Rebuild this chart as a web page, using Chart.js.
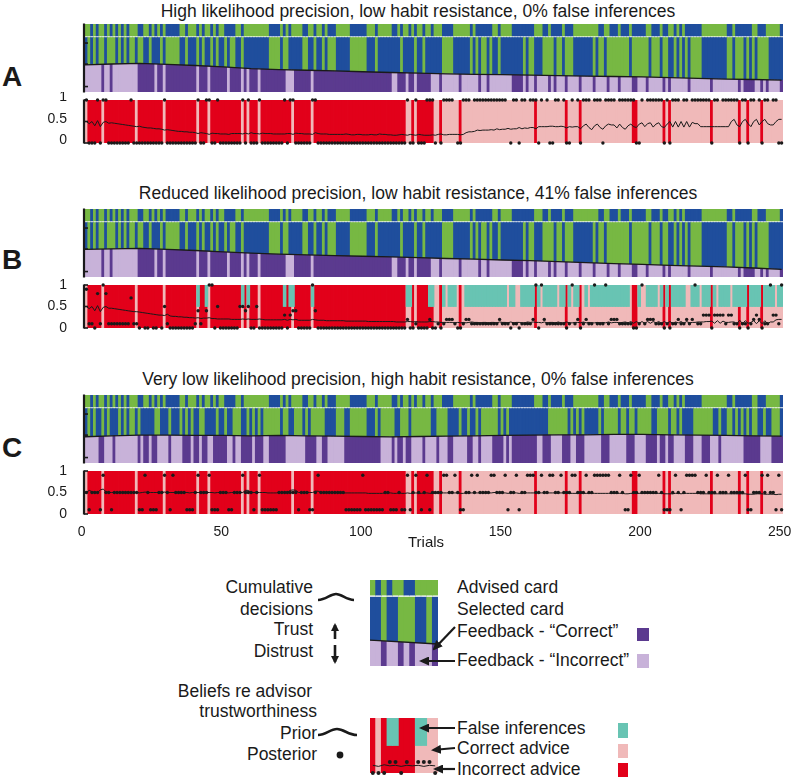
<!DOCTYPE html>
<html>
<head>
<meta charset="utf-8">
<title>Advice taking simulations</title>
<script src="https://cdn.jsdelivr.net/npm/chart.js@4.4.1/dist/chart.umd.min.js"></script>
<style>
  body { margin: 0; background: #fff; }
  #fig { position: relative; width: 791px; height: 779px; overflow: hidden;
         font-family: "Liberation Sans", Arial, Helvetica, sans-serif; color: #1a1a1a; }
  #fig canvas { position: absolute; left: 0; }
  .lbl { position: absolute; white-space: nowrap; line-height: 1; font-size: 17.5px; }
  .title { left: 0; width: 836px; text-align: center; }
  .letter { left: 2px; font-size: 28px; font-weight: bold; }
  .rt { text-align: right; }
  .sq { position: absolute; }
  #notes { position: absolute; left: 0; top: 0; }
</style>
</head>
<body>
<div id="fig">
  <div class="lbl title" style="top:3px">High likelihood precision, low habit resistance, 0% false inferences</div>
  <div class="lbl title" style="top:185px">Reduced likelihood precision, low habit resistance, 41% false inferences</div>
  <div class="lbl title" style="top:371px">Very low likelihood precision, high habit resistance, 0% false inferences</div>
  <div class="lbl letter" style="top:63px">A</div>
  <div class="lbl letter" style="top:246px">B</div>
  <div class="lbl letter" style="top:434px">C</div>

  <canvas id="topA" width="791" height="80" style="top:20px"></canvas>
  <canvas id="belA" width="791" height="56" style="top:92px"></canvas>
  <canvas id="topB" width="791" height="80" style="top:205px"></canvas>
  <canvas id="belB" width="791" height="56" style="top:277px"></canvas>
  <canvas id="topC" width="791" height="80" style="top:391px"></canvas>
  <canvas id="belC" width="791" height="87" style="top:463px"></canvas>
  <div class="lbl" style="left:408px;top:534px;font-size:15px">Trials</div>
  <canvas id="legCards" width="90" height="100" style="left:360px;top:572px"></canvas>
  <canvas id="legBelief" width="90" height="70" style="left:360px;top:710px"></canvas>

  <!-- legend texts -->
  <div class="lbl rt" style="right:478px;top:579px">Cumulative</div>
  <div class="lbl rt" style="right:478px;top:601px">decisions</div>
  <div class="lbl rt" style="right:478px;top:621px">Trust</div>
  <div class="lbl rt" style="right:478px;top:643px">Distrust</div>
  <div class="lbl rt" style="right:479px;top:683px">Beliefs re advisor</div>
  <div class="lbl rt" style="right:474px;top:703px">trustworthiness</div>
  <div class="lbl rt" style="right:474px;top:725px">Prior</div>
  <div class="lbl rt" style="right:474px;top:746px">Posterior</div>

  <div class="lbl" style="left:457px;top:579px">Advised card</div>
  <div class="lbl" style="left:457px;top:601px">Selected card</div>
  <div class="lbl" style="left:457px;top:623px">Feedback - “Correct”</div>
  <div class="lbl" style="left:457px;top:652px">Feedback - “Incorrect”</div>
  <div class="lbl" style="left:457px;top:720px">False inferences</div>
  <div class="lbl" style="left:457px;top:740px">Correct advice</div>
  <div class="lbl" style="left:457px;top:761px">Incorrect advice</div>

  <div class="sq" style="left:637px;top:628px;width:12px;height:13px;background:#5b3a8f"></div>
  <div class="sq" style="left:637px;top:654px;width:12px;height:14px;background:#c8b2d9"></div>
  <div class="sq" style="left:618px;top:723px;width:10px;height:15px;background:#68c4b3"></div>
  <div class="sq" style="left:618px;top:744px;width:10px;height:14px;background:#f0b9b9"></div>
  <div class="sq" style="left:618px;top:763px;width:10px;height:14px;background:#e2001a"></div>

  <svg id="notes" width="791" height="779">
    <defs>
      <marker id="ah" markerWidth="10" markerHeight="9" refX="8" refY="4.5" orient="auto" markerUnits="userSpaceOnUse">
        <path d="M0,0 L10,4.5 L0,9 z" fill="#1a1a1a"/>
      </marker>
      <marker id="ahs" markerWidth="8" markerHeight="9" refX="6" refY="4.5" orient="auto" markerUnits="userSpaceOnUse">
        <path d="M0,0.5 L8,4.5 L0,8.5 z" fill="#1a1a1a"/>
      </marker>
    </defs>
    <g stroke="#1a1a1a" fill="none">
      <path d="M318,600 C326,600 330,594 336,594 C342,594 346,600 354,600" stroke-width="2.6"/>
      <path d="M335,639 L335,625" stroke-width="2.6" marker-end="url(#ahs)"/>
      <path d="M335,645 L335,662" stroke-width="2.6" marker-end="url(#ahs)"/>
      <path d="M318,735 C326,735 330,729 337,729 C344,729 348,735 357,735" stroke-width="2.6"/>
      <path d="M455,627 L434,649" stroke-width="2.2" marker-end="url(#ah)"/>
      <path d="M455,661 L421,661" stroke-width="2.2" marker-end="url(#ah)"/>
      <path d="M455,728 L421,728" stroke-width="2.2" marker-end="url(#ah)"/>
      <path d="M455,748 L433,750" stroke-width="2.2" marker-end="url(#ah)"/>
      <path d="M455,769 L435,769" stroke-width="2.2" marker-end="url(#ah)"/>
    </g>
    <circle cx="340" cy="755" r="3.4" fill="#1a1a1a"/>
  </svg>
</div>

<script>
// ---- DATA (one character per trial, 25 blocks of 10 trials) ----
// advised card: G green, B blue (same task in all three simulations)
const advised = [
  "GGBGBGGBGB","GBGBGBGGGB","BGGBGBGBGB","BBBBGGBGGG","BGBGGBGBGG",
  "BBBBGGBGGG","GGGGGGBBBB","GBGBGGGGBB","GGBGGBGBBB","GGGGGBBBBB",
  "BGGGBGGGGG","BBGBGGBGBG","GBGGBGGGBB","BBGGGGGGBG","BBBBBBGGBG",
  "GGGBBBBBBB","BGGGBBGBBB","BGBBBGGGGG","GGGGBBGGBB","BGBBBGBBBB",
  "BGGBBBGBBG","GBGBGBBBBB","BGGGGGGGGG","BBGBBBBBBG","GBBBGGGGGB"
].join("");

// advice: o correct, x incorrect
const adviceOk = [
  "oxxxxxoxxx","xxxxxxxxox","xxxxxxxxox","xxxxxxxxxx","oxxxoxxxxx",
  "xxxxxxoxox","xxoxxxxxxx","xxxxoxxxxx","xoxxxxxxxx","xxxxxxxxxx",
  "xxxxxxxxxx","xxxxxooxox","xxxxxooxoo","ooooxooooo","oooooooooo",
  "oooooooooo","oxoooooooo","ooxooooxoo","oooooooooo","ooooooxxoo",
  "oooooooxox","oooooooooo","ooooxooooo","ooooxooxoo","ooxooooooo"
].join("");

// selected card (A and B), feedback D "Correct" / L "Incorrect"
const selectedAB = [
  "BGBGBGGBGG","GBGBGBGGBG","GBBGBBBGBG","GGGGBBGBBB","GBGBBGBGBB",
  "GBGGBBGBBB","BBBBBBGGGG","BGGBBBBBGG","BBGBBGBGGG","BBBBBGGGGG",
  "GBBBGBBBBB","BBBGBBBBGB","BGBBBBBBGG","GGBBBBBBGB","GBGGBGBBGB",
  "BBBBBBBGBG","GBBBGGGGBG","GBGGGBBBBB","BBGBGGBGGG","GGGGGBGGGG",
  "GGBGGGBGGB","BGBGBGBGGG","GBBBBBBBBB","GGBGGGBGBG","BGGGGBBBBB"
].join("");
const feedbackAB = [
  "LLLLLLDLLD","LLLLLLLLLD","DDDDDLDDLD","DDDDDDDDDD","LDDDLDDDDD",
  "DLDDDDLDLD","DDLDDDDDDD","DDLLLDDDDD","DLDDDDDDDD","DDDDDDDDDD",
  "DDDDDDDDDD","LLDDDLDDLD","DDDDLLLDLL","LLLLDLLLLL","LDLLDLLLLL",
  "LLLDDDDLDL","LDLLLLDLDL","LLDLLLLDLL","LLDLLLLDLL","LDLLLLDDLL",
  "LDLLLLLDLD","LLLLLLDLLL","LLLLDLLLLL","LLLLDLDDDD","LLDLDLLLLD"
].join("");
const selectedC = [
  "BGBGBBGBGB","BBGBGBGGBG","BBBBBGGBBB","GBBBGBGBGB","BGGBBBBGBB",
  "GBBGGGBBGB","GBGBGGGGGG","BGGBBGGGBG","BGGGGGBBBB","GGGBBGGGGG",
  "GBBBGBGGGG","GBBGGGBGGG","GGGGBBGGGG","BBBBGBBGBB","GBGGGGGGBG",
  "BGBBBBBBBB","BBBBBBGGGG","GGGBGBGBGB","BBBBGBGGGG","GBGGBGGBGG",
  "GGGBBGGGGB","GGBGBBBBGG","GGGGGBBGBB","GGBGBGBGBG","GBBGBBGGGB"
].join("");
const feedbackC = [
  "LLLLLDDLLL","DLLLLLLLLD","LDDLDDLLLL","DLLLLDDDLD","DLDDLLDDDD",
  "DLLDLLDDDD","LDDDLLDDDD","DDLLLLLLLD","DDDLLDDLLL","LLLDDDDDDD",
  "DDDDDDLLLL","DLDDLDDLLL","LDLLLLDLLL","DDLLLLLDDL","LDLLLLDDDD",
  "LDLDDDDDDD","DDLLDDDLLL","LDDDLLDDDL","LLLLLDDDLL","LLLLDDDLLL",
  "LDDDDLDDLD","DLLLLDDDLL","LDDDLLLDLL","LLLLLLDDDD","DDLLLLDDDD"
].join("");

// false inferences in simulation B (1 = false inference)
const falseInfB = [
  "0000000000","0000000000","0000000000","0000000000","1001000000",
  "0000001010","0000000000","0101100000","0100000000","0000000000",
  "0000000000","0000011000","0001100010","1110001111","1111111111",
  "1011001111","1010111110","1101011001","0111111111","1111100010",
  "0111101010","1111100111","0111010111","1011111011","1101111011"
].join("");

// cumulative trust/distrust line, read every 10 trials (fraction of strip height)
const trustTrials = [0,10,20,30,40,50,60,70,80,90,100,110,120,130,140,150,160,170,180,190,200,210,220,230,240,250];
const trustA = [0.397,0.412,0.42,0.405,0.39,0.37,0.345,0.33,0.32,0.31,0.298,0.287,0.278,0.268,0.26,0.255,0.248,0.24,0.232,0.228,0.222,0.212,0.2,0.19,0.184,0.176];
const trustB = [0.405,0.415,0.42,0.405,0.39,0.37,0.35,0.335,0.325,0.315,0.305,0.295,0.285,0.272,0.262,0.25,0.24,0.225,0.21,0.198,0.185,0.172,0.16,0.15,0.132,0.113];
const trustC = [0.385,0.4,0.41,0.41,0.405,0.405,0.4,0.405,0.4,0.395,0.39,0.385,0.39,0.395,0.4,0.405,0.41,0.415,0.415,0.42,0.42,0.415,0.41,0.405,0.4,0.395];

// prior belief in advisor trustworthiness, per trial
const priorA = [
  .5,.45,.5,.4,.52,.38,.48,.5,.46,.47, .46,.45,.44,.43,.42,.41,.4,.39,.38,.39,
  .37,.36,.35,.35,.34,.33,.33,.32,.3,.31, .3,.29,.28,.27,.27,.26,.26,.25,.25,.24,
  .22,.24,.23,.22,.2,.23,.22,.22,.21,.21, .21,.2,.22,.22,.22,.22,.21,.23,.21,.24,
  .22,.22,.21,.23,.22,.22,.22,.21,.21,.21, .21,.21,.22,.22,.2,.23,.22,.22,.21,.21,
  .21,.2,.24,.22,.21,.21,.21,.2,.2,.2, .2,.2,.2,.21,.2,.19,.19,.2,.2,.19,
  .19,.19,.2,.19,.19,.21,.2,.2,.19,.19, .18,.18,.19,.2,.19,.18,.2,.19,.18,.2,
  .19,.18,.18,.18,.19,.18,.2,.21,.19,.19, .2,.2,.2,.2,.19,.2,.24,.26,.26,.27,
  .3,.29,.3,.3,.3,.31,.3,.33,.31,.32, .32,.34,.32,.33,.33,.36,.33,.35,.34,.36,
  .36,.33,.38,.38,.38,.38,.39,.39,.38,.38, .39,.38,.35,.38,.37,.38,.38,.33,.4,.44,
  .36,.31,.4,.44,.36,.32,.4,.44,.42,.42, .35,.44,.36,.32,.4,.44,.38,.36,.44,.47,
  .38,.45,.47,.37,.44,.47,.38,.36,.44,.5, .37,.5,.37,.5,.37,.5,.37,.48,.45,.45,
  .38,.38,.38,.38,.38,.38,.38,.38,.38,.38, .38,.5,.55,.42,.38,.5,.55,.45,.38,.5,
  .55,.42,.5,.55,.45,.42,.42,.5,.55,.55
];
const priorB = [
  .5,.45,.5,.4,.52,.38,.48,.5,.46,.46, .45,.44,.43,.42,.41,.4,.39,.38,.38,.37,
  .36,.35,.34,.33,.32,.31,.3,.3,.29,.32, .28,.27,.27,.26,.26,.25,.25,.24,.24,.23,
  .24,.22,.23,.23,.24,.22,.22,.21,.21,.21, .21,.21,.2,.2,.2,.2,.21,.2,.21,.2,
  .2,.2,.21,.2,.19,.19,.19,.19,.19,.19, .19,.2,.18,.2,.19,.2,.18,.18,.18,.18,
  .18,.2,.19,.18,.18,.18,.17,.17,.17,.17, .17,.17,.17,.16,.16,.16,.16,.16,.16,.16,
  .16,.15,.15,.15,.15,.15,.15,.15,.15,.15, .15,.14,.14,.14,.14,.15,.15,.14,.15,.14,
  .14,.14,.14,.15,.15,.14,.14,.13,.13,.13, .13,.13,.12,.13,.12,.13,.12,.13,.14,.13,
  .13,.12,.13,.13,.12,.13,.13,.12,.14,.13, .13,.12,.14,.12,.13,.13,.12,.12,.14,.13,
  .14,.13,.13,.12,.14,.12,.13,.13,.12,.14, .12,.12,.14,.12,.12,.13,.13,.12,.14,.12,
  .13,.12,.12,.13,.12,.13,.12,.14,.12,.13, .13,.12,.13,.14,.12,.15,.11,.15,.11,.15,
  .11,.15,.11,.15,.12,.15,.11,.15,.11,.15, .11,.14,.12,.15,.11,.15,.12,.13,.13,.14,
  .14,.14,.15,.15,.16,.11,.17,.11,.16,.13, .13,.14,.14,.1,.18,.1,.17,.11,.13,.17,
  .1,.17,.1,.17,.1,.14,.14,.19,.2,.2
];
const priorC = [
  .5,.55,.52,.5,.5,.56,.58,.52,.5,.5, .5,.5,.5,.5,.5,.5,.5,.5,.5,.49,
  .5,.51,.5,.5,.5,.5,.5,.5,.51,.5, .5,.5,.5,.5,.5,.5,.5,.49,.5,.5,
  .5,.5,.5,.5,.5,.5,.49,.5,.5,.5, .5,.49,.5,.5,.5,.5,.5,.55,.55,.5,
  .5,.5,.5,.5,.5,.49,.49,.49,.49,.5, .5,.5,.5,.55,.56,.55,.5,.5,.5,.5,
  .5,.5,.53,.53,.5,.5,.5,.5,.5,.5, .5,.5,.49,.49,.49,.49,.49,.49,.49,.49,
  .49,.48,.48,.48,.48,.48,.48,.49,.49,.49, .48,.48,.49,.48,.48,.49,.48,.48,.49,.48,
  .48,.49,.49,.48,.48,.48,.49,.49,.49,.49, .49,.49,.49,.49,.48,.48,.49,.49,.49,.49,
  .49,.49,.49,.49,.49,.49,.5,.5,.49,.49, .49,.48,.49,.49,.49,.48,.48,.49,.49,.49,
  .49,.49,.49,.49,.49,.49,.49,.49,.49,.49, .49,.49,.49,.48,.48,.48,.48,.48,.48,.48,
  .48,.48,.48,.48,.48,.48,.48,.48,.48,.48, .48,.48,.48,.47,.47,.48,.48,.48,.48,.48,
  .48,.48,.48,.48,.48,.48,.48,.47,.47,.47, .47,.48,.48,.47,.48,.48,.48,.48,.48,.48,
  .47,.47,.47,.47,.47,.47,.47,.47,.47,.47, .47,.47,.47,.47,.47,.47,.47,.46,.46,.46,
  .47,.47,.47,.46,.46,.46,.46,.45,.46,.46
];

// posterior: digit = tenths, T = 1, "." = no dot
const postA = [
  "T000T0TT00","000000T000","00000000T0","0000000000","T00TT00T00",
  "000000T0T0","00T0000000","0T0TT00000","0TT0000000","0000000000",
  "0000000000","00000T00T0","00TTT0.0TT","TT.00TTT.T","TTTTTTTTTT",
  "T.0TT0TT.T","TT0T.T00TT",".T00T.T0TT","T.TTT0TTTT",".TTTTTT00T",
  ".TTTTTT0T0","TTT.TT.TTT","TTTT0TT.TT","TTTT0TT0TT",".T0TT.TT00"
].join("");
const postB = [
  "911081T811","1111117110",".00.00.051","0000000001","41.4TT0500",
  "0000055450","0500000000","0303440000","0T40000000","0000000000",
  "0000000000","0000020010","0002001012","2210012211","1111111121",
  "1101101111","2T0T211111","1101T12012","11T111T122","211111001T",
  "1222111010","11211212T1","1333033331","3311011012","32011T331T"
].join("");
const postC = [
  "5155519551","5555555551","1951115595","1955551115","9555911155",
  "5115559555","1591111115","5555551555","1159555555","5551111119",
  "1111111551","1151191595","1591555599","5595115595","9555599555",
  "9155915599","9559559955","9555995559","5599999955","5951195595",
  "5555595111","5951599995","5595559555","9555559115","5595955191"
].join("");

// legend example (a few trials)
const legAdvised  = "GBGBGGBBGGGG";
const legSelected = "BBGBBGGGBBGB";
const legFeedback = "LLDLLDLDLLLD";
const legTrustX = [0.5, 12.5];
const legTrustY = [0.30, 0.256];
const legAdvice = "xoxxxxxxoooo";
const legFalse  = "000110001100";
const legPrior  = [.14,.12,.15,.13,.14,.12,.14,.13,.14,.12,.14,.13];
const legPost   = "0002202.2220";

const beliefTicks = [0, 0.5, 1];
const cardTicks = [0.08, 0.41, 0.72];
const xTicks = [0, 50, 100, 150, 200, 250];

// ---- STYLE ----
const FONT = '"Liberation Sans", Arial, Helvetica, sans-serif';
const INK = "#1a1a1a";
const CARD = { G: "#77b843", B: "#1f4e9d" };
const FEED = { D: "#5b3a8f", L: "#c8b2d9" };
const ADVICE = { o: "#f0b9b9", x: "#e2001a" };
const TEAL = "#68c4b3";
Chart.defaults.font.family = FONT;

// ---- PLUGINS ----
// feedback colours are only shown below the cumulative decision line
const trustClip = {
  id: "trustClip",
  beforeDatasetDraw(chart, args) {
    if (!chart.data.datasets[args.index].belowTrust) return;
    const pts = chart.getDatasetMeta(0).data;
    const { ctx, chartArea: a } = chart;
    ctx.save();
    ctx.beginPath();
    ctx.moveTo(a.left - 3, a.bottom + 3);
    ctx.lineTo(a.left - 3, pts[0].y);
    pts.forEach((p) => ctx.lineTo(p.x, p.y));
    ctx.lineTo(a.right + 3, pts[pts.length - 1].y);
    ctx.lineTo(a.right + 3, a.bottom + 3);
    ctx.closePath();
    ctx.clip();
  },
  afterDatasetDraw(chart, args) {
    if (chart.data.datasets[args.index].belowTrust) chart.ctx.restore();
  },
};

// thick left axis line with short inward ticks
const leftAxis = {
  id: "leftAxis",
  afterDraw(chart, _args, opts) {
    if (!opts.ticks) return;
    const { ctx, chartArea: a, scales } = chart;
    const x = a.left - 1;
    ctx.save();
    ctx.strokeStyle = INK;
    ctx.lineWidth = 2.2;
    ctx.beginPath();
    ctx.moveTo(x, a.top - 0.5);
    ctx.lineTo(x, a.bottom + 0.5);
    ctx.stroke();
    ctx.lineWidth = 1.6;
    opts.ticks.forEach((v) => {
      const y = scales.y.getPixelForValue(v);
      ctx.beginPath();
      ctx.moveTo(x, y);
      ctx.lineTo(x + 4, y);
      ctx.stroke();
    });
    ctx.restore();
  },
};

// ---- CHART BUILDERS ----
function barSet(codes, band, palette, order, extra) {
  const items = [...codes].map((c, i) => ({ c, x: i + 1 })).filter((d) => palette[d.c]);
  return Object.assign({
    type: "bar",
    data: items.map((d) => ({ x: d.x, y: band })),
    backgroundColor: items.map((d) => palette[d.c]),
    grouped: false, barPercentage: 1, categoryPercentage: 1,
    inflateAmount: 0.4, borderWidth: 0, order,
  }, extra || {});
}

function cardStrip(id, o) {
  const n = o.advised.length;
  return new Chart(document.getElementById(id), {
    type: "bar",
    data: {
      datasets: [
        { type: "line", data: o.trustX.map((x, i) => ({ x, y: o.trustY[i] })),
          borderColor: INK, borderWidth: 1.3, pointRadius: 0, order: 0 },
        barSet(o.feedback, [0, 0.8], FEED, 1, { belowTrust: true }),
        barSet(o.selected, [0, 0.8], CARD, 2),
        barSet(o.advised, [0.825, 1], CARD, 3),
      ],
    },
    options: {
      animation: false, responsive: false, events: [],
      layout: { padding: o.pad },
      scales: {
        x: { type: "linear", min: 0.5, max: n + 0.5, offset: false, display: false, grid: { offset: false } },
        y: { min: 0, max: 1, display: false },
      },
      plugins: { legend: { display: false }, tooltip: { enabled: false }, leftAxis: { ticks: o.ticks } },
    },
    plugins: [trustClip, leftAxis],
  });
}

function decodePost(s) {
  return [...s].map((c, i) => (c === "." ? null : { x: i + 1, y: c === "T" ? 1 : Number(c) / 10 }))
    .filter(Boolean);
}

function beliefStrip(id, o) {
  const n = o.advice.length;
  const sets = [
    { type: "line", data: decodePost(o.post), showLine: false, pointRadius: o.dot || 1.7,
      pointBackgroundColor: INK, pointBorderWidth: 0, clip: false, order: 0 },
    { type: "line", data: o.prior.map((y, i) => ({ x: i + 1, y })), borderColor: INK,
      borderWidth: 1, pointRadius: 0, order: 1 },
    barSet(o.advice, [0, 1], ADVICE, 3),
  ];
  if (o.falseInf) sets.push(barSet(o.falseInf, [0.5, 1], { 1: TEAL }, 2));
  const tickFont = { size: 14, family: FONT };
  return new Chart(document.getElementById(id), {
    type: "bar",
    data: { datasets: sets },
    options: {
      animation: false, responsive: false, events: [],
      layout: { padding: o.pad },
      scales: {
        x: {
          type: "linear", min: 0.5, max: n + 0.5, offset: false, display: !!o.showX,
          grid: { display: false, offset: false }, border: { display: false },
          afterBuildTicks: (s) => { s.ticks = xTicks.map((v) => ({ value: v })); },
          ticks: { font: tickFont, color: INK, padding: 2, labelOffset: -2, maxRotation: 0, autoSkip: false },
          afterFit: (s) => {
            if (!o.showX) return;
            s.height = 36;
            s.paddingLeft = 0;
            s.paddingRight = 0;
          },
        },
        y: {
          min: 0, max: 1, display: !!o.showY,
          grid: { display: false }, border: { display: false },
          afterBuildTicks: (s) => { s.ticks = beliefTicks.map((v) => ({ value: v })); },
          ticks: { font: tickFont, color: INK, padding: 10, labelOffset: o.labelShift || 0, autoSkip: false,
                   callback: (v) => String(v) },
          afterFit: (s) => {
            if (!o.showY) return;
            s.width = 85;
            s.paddingTop = 0;
            s.paddingBottom = 0;
          },
        },
      },
      plugins: { legend: { display: false }, tooltip: { enabled: false },
                 leftAxis: { ticks: o.showY ? beliefTicks : null } },
    },
    plugins: [leftAxis],
  });
}

// ---- DRAW ----
const topPad = { left: 85, right: 8, top: 4, bottom: 8 };
cardStrip("topA", { advised, selected: selectedAB, feedback: feedbackAB, trustX: trustTrials, trustY: trustA, ticks: cardTicks, pad: topPad });
cardStrip("topB", { advised, selected: selectedAB, feedback: feedbackAB, trustX: trustTrials, trustY: trustB, ticks: cardTicks, pad: topPad });
cardStrip("topC", { advised, selected: selectedC, feedback: feedbackC, trustX: trustTrials, trustY: trustC, ticks: cardTicks, pad: topPad });

const belPad = { left: 0, right: 8, top: 8, bottom: 5 };
beliefStrip("belA", { advice: adviceOk, prior: priorA, post: postA, showY: true, labelShift: -2.5, pad: belPad });
beliefStrip("belB", { advice: adviceOk, prior: priorB, post: postB, falseInf: falseInfB, showY: true, pad: belPad });
beliefStrip("belC", { advice: adviceOk, prior: priorC, post: postC, showY: true, showX: true, pad: { left: 0, right: 8, top: 8, bottom: 0 } });

// legend examples
cardStrip("legCards", { advised: legAdvised, selected: legSelected, feedback: legFeedback, trustX: legTrustX, trustY: legTrustY,
                        pad: { left: 10, right: 12, top: 8, bottom: 6 } });
beliefStrip("legBelief", { advice: legAdvice, prior: legPrior, post: legPost, falseInf: legFalse, dot: 2,
                           pad: { left: 10, right: 12, top: 8, bottom: 7 } });
</script>
</body>
</html>
